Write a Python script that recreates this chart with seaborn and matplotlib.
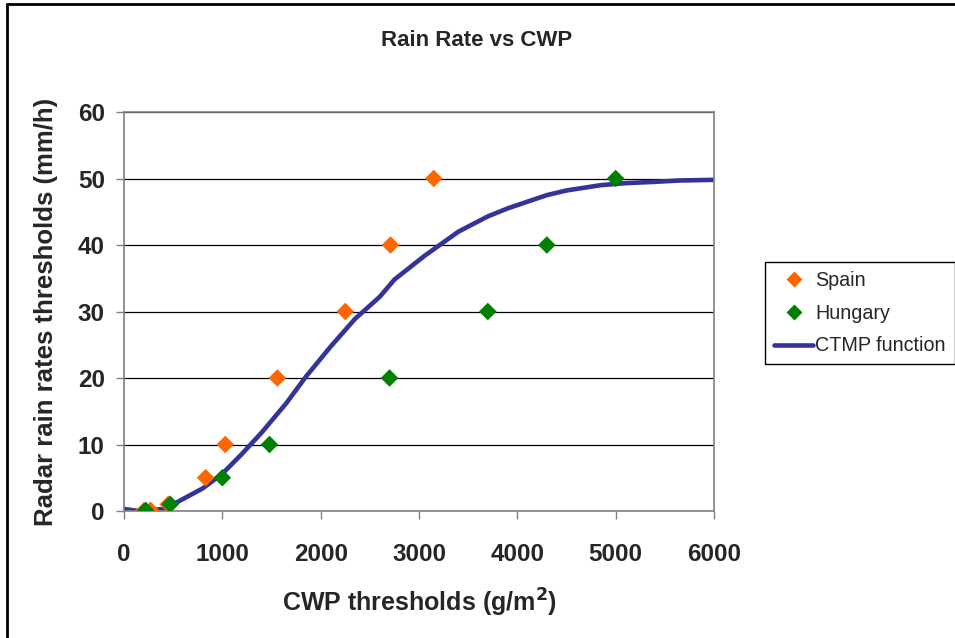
import numpy as np
import pandas as pd
import matplotlib
matplotlib.use('Agg')
import matplotlib.pyplot as plt
import seaborn as sns
from matplotlib.lines import Line2D

# values
spain_cwp = [200, 270, 450, 830, 1030, 1560, 2250, 2710, 3150]
spain_rate = [0.0, 0.1, 1, 5, 10, 20, 30, 40, 50]

hungary_cwp = [220, 470, 1000, 1480, 2700, 3700, 4300, 5000]
hungary_rate = [0.1, 1, 5, 10, 20, 30, 40, 50]

ctmp_cwp = [0, 150, 400, 550, 800, 1000, 1200, 1400, 1650, 1850, 2100, 2350,
            2600, 2750, 3050, 3400, 3700, 3900, 4300, 4500, 4850, 5100, 5400,
            5650, 6000]
ctmp_rate = [0.3, 0.0, 0.3, 1.4, 3.4, 5.6, 8.6, 11.8, 16.2, 20.2, 24.7, 28.9,
             32.2, 34.8, 38.3, 42.0, 44.3, 45.5, 47.5, 48.2, 49.0, 49.3, 49.5,
             49.7, 49.8]

x_ticks = [0, 1000, 2000, 3000, 4000, 5000, 6000]
y_ticks = [0, 10, 20, 30, 40, 50, 60]

sns.set_style('white')
plt.rcParams['font.family'] = ['Liberation Sans', 'DejaVu Sans']

spain_df = pd.DataFrame({'cwp': spain_cwp, 'rate': spain_rate})
hungary_df = pd.DataFrame({'cwp': hungary_cwp, 'rate': hungary_rate})
ctmp_df = pd.DataFrame({'cwp': ctmp_cwp, 'rate': ctmp_rate})

fig = plt.figure(figsize=(9.55, 6.38), dpi=100)
ax = fig.add_axes([124 / 955, 1 - 511 / 638, 590 / 955, 399 / 638])

for y in y_ticks[1:]:
    ax.axhline(y, color='black', lw=0.9, zorder=0)

sns.lineplot(data=ctmp_df, x='cwp', y='rate', ax=ax, color='#333399',
             lw=3.3, zorder=2)
sns.scatterplot(data=spain_df, x='cwp', y='rate', ax=ax, marker='D',
                color='#FF6600', s=80, edgecolor='none', zorder=3)
sns.scatterplot(data=hungary_df, x='cwp', y='rate', ax=ax, marker='D',
                color='#008000', s=80, edgecolor='none', zorder=4)

ax.set_xlim(0, 6000)
ax.set_ylim(0, 60)
ax.set_xticks(x_ticks)
ax.set_yticks(y_ticks)
ax.tick_params(axis='both', which='both', direction='out', length=5.8,
               width=1, color='#808080', labelsize=17.5,
               bottom=True, left=True)
ax.tick_params(axis='x', pad=17)
ax.tick_params(axis='y', pad=8)
for lab in ax.get_xticklabels() + ax.get_yticklabels():
    lab.set_fontweight('bold')
for sp in ax.spines.values():
    sp.set_color('#808080')
    sp.set_linewidth(1.2)

ax.set_xlabel('')
ax.set_ylabel('')
fig.text(420 / 955, 1 - 603 / 638, 'CWP thresholds (g/m$^\\mathbf{2}$)',
         ha='center', va='center', fontsize=18, fontweight='bold')
fig.text(46 / 955, 1 - 312 / 638, 'Radar rain rates thresholds (mm/h)',
         ha='center', va='center', rotation=90, fontsize=18.5,
         fontweight='bold')
fig.text(477 / 955, 1 - 40 / 638, 'Rain Rate vs CWP', ha='center',
         va='center', fontsize=16, fontweight='bold')

handles = [
    Line2D([], [], marker='D', color='#FF6600', ls='none', markersize=8,
           markeredgecolor='none'),
    Line2D([], [], marker='D', color='#008000', ls='none', markersize=8,
           markeredgecolor='none'),
    Line2D([], [], color='#333399', lw=3.3),
]
leg = fig.legend(handles, ['Spain', 'Hungary', 'CTMP function'],
                 loc='upper left', bbox_to_anchor=(765 / 955, 1 - 262 / 638),
                 frameon=True, fancybox=False, framealpha=1, fontsize=14.2,
                 handlelength=2.0, handletextpad=0.1, borderpad=0.45,
                 borderaxespad=0, labelspacing=0.7)
leg.get_frame().set_edgecolor('black')
leg.get_frame().set_linewidth(1)

# chart area border (only top and left are visible in the image)
fig.add_artist(Line2D([7 / 955, 1], [1 - 4 / 638, 1 - 4 / 638],
                      transform=fig.transFigure, color='black', lw=2))
fig.add_artist(Line2D([7 / 955, 7 / 955], [0, 1 - 4 / 638],
                      transform=fig.transFigure, color='black', lw=2))

fig.savefig('out.png', dpi=100)
